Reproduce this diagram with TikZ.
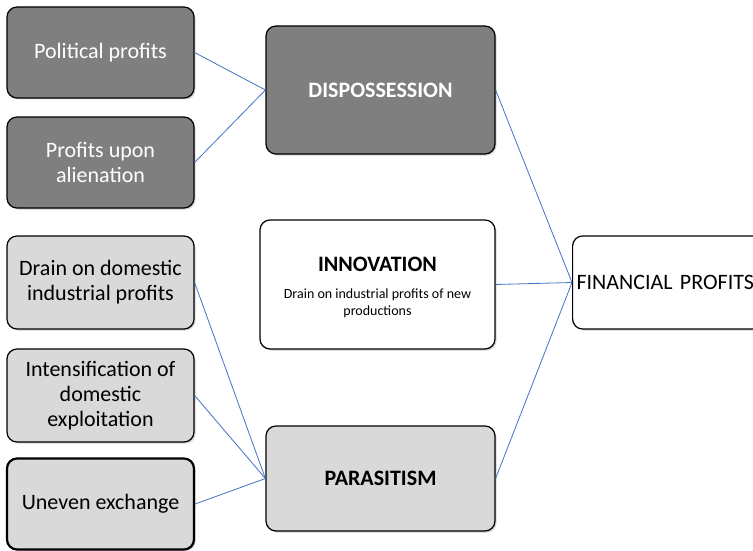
\documentclass[tikz,border=0pt]{standalone}
\usepackage{fontspec}
\setmainfont{Carlito}
\usetikzlibrary{shadows}
\definecolor{linkblue}{RGB}{68,114,196}
\definecolor{boxdark}{RGB}{127,127,127}
\definecolor{boxlight}{RGB}{217,217,217}
\newcommand{\subsz}{\fontsize{14}{17}\selectfont}

\begin{document}
\begin{tikzpicture}[x=1pt, y=-1pt,
		box/.style={draw=black, line width=1.2pt, rounded corners=10pt, align=center, inner sep=0pt,
			font=\fontsize{22}{25}\selectfont,
			drop shadow={shadow xshift=1.5pt, shadow yshift=-1.5pt, opacity=0.35}},
		dark/.style={box, fill=boxdark, text=white},
		light/.style={box, fill=boxlight},
		plain/.style={box, fill=white},
		small/.style={minimum width=187pt},
		big/.style={minimum width=229pt},
		link/.style={draw=linkblue, line width=0.8pt}]
	\useasboundingbox[fill=white] (0, 0) rectangle (753, 551);
	% left column
	\node[dark, small, minimum height=91pt] (polit) at (100.5, 52.5) {Political profits};
	\node[dark, small, minimum height=91pt] (alien) at (100.5, 162.5) {Profits upon\\alienation};
	\node[light, small, minimum height=93pt] (drain) at (100.5, 282.5) {Drain on domestic\\industrial profits};
	\node[light, small, minimum height=93pt] (intens) at (100.5, 395.5) {Intensification of\\domestic\\exploitation};
	\node[light, small, minimum height=91pt, line width=2.2pt] (uneven) at (100.5, 504) {Uneven exchange};
	% middle column
	\node[dark, big, minimum height=128pt] (dispo) at (380.5, 90) {\textbf{DISPOSSESSION}};
	\node[plain, minimum width=235pt, minimum height=129pt] (innov) at (377.5, 284.5)
		{\rule{0pt}{21pt}\textbf{INNOVATION}\\[2pt]{\subsz Drain on industrial profits of new}\\[-8pt]{\subsz productions}};
	\node[light, big, minimum height=105pt] (paras) at (380.5, 478.5) {\textbf{PARASITISM}};
	% right
	\node[plain, minimum height=93pt, text width=190pt, inner xsep=4pt, align=left, anchor=west] (finan) at (572, 282.5) {FINANCIAL PROFITS};
	% links
	\draw[link] (polit.east) -- (dispo.west);
	\draw[link] (alien.east) -- (dispo.west);
	\draw[link] (drain.east) -- (paras.west);
	\draw[link] (intens.east) -- (paras.west);
	\draw[link] (uneven.east) -- (paras.west);
	\draw[link] (dispo.east) -- (finan.west);
	\draw[link] (innov.east) -- (finan.west);
	\draw[link] (paras.east) -- (finan.west);
\end{tikzpicture}
\end{document}
